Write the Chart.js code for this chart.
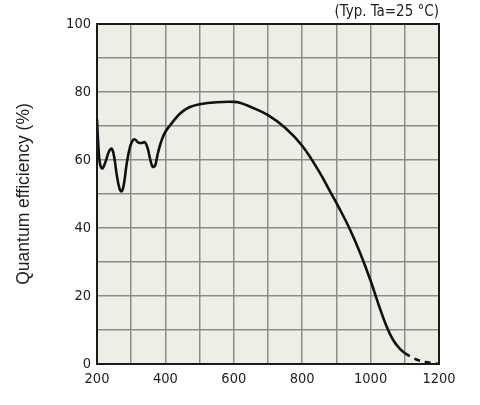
<!DOCTYPE html>
<html>
<head>
<meta charset="utf-8">
<script src="https://cdn.jsdelivr.net/npm/chart.js@4"></script>
<style>
	html, body { margin: 0; padding: 0; background: #ffffff; }
	#wrap { width: 480px; height: 405px; }
</style>
</head>
<body>
<div id="wrap"><canvas id="qe" width="480" height="405"></canvas></div>
<script>
// wavelength (nm) and quantum efficiency (%)
const wavelength = [200, 203, 207, 212, 217, 225, 235, 243, 250, 258, 266, 272, 278, 287, 297, 305, 312, 320, 330, 340,
	348, 356, 363, 370, 378, 388, 400, 420, 443, 470, 500, 550, 600, 620, 650, 700, 750, 800, 850, 880,
	910, 940, 970, 1000, 1025, 1045, 1065, 1085, 1100];
const efficiency = [72, 66, 60, 57.8, 57.6, 59.5, 62.5, 63.3, 61, 55.5, 51.5, 50.8, 52.5, 59, 64, 65.8, 66, 65.2, 65, 65.2,
	63.5, 60, 58, 58.4, 62, 65.5, 68.3, 71, 73.7, 75.5, 76.4, 77, 77.1, 76.8, 75.6, 73.2, 69.5, 64.2, 56.5, 51,
	45.5, 39.5, 32.5, 24.5, 17, 11.5, 7.2, 4.5, 3.2];

// extrapolated tail, drawn dashed
const tailWavelength = [1100, 1120, 1140, 1160, 1180, 1195];
const tailEfficiency = [3.2, 2.0, 1.1, 0.6, 0.3, 0.1];

const xTickStep = 200;
const yTickStep = 20;
const noteText = "(Typ. Ta=25 \u00B0C)";

function toPoints(xs, ys)
{
	return xs.map((x, i) => ({ x: x, y: ys[i] }));
}

const plotFrame = {
	id: "plotFrame",
	beforeDraw(chart)
	{
		const { ctx, chartArea: a } = chart;
		ctx.save();
		ctx.fillStyle = "#efeee6";
		ctx.fillRect(a.left, a.top, a.right - a.left, a.bottom - a.top);
		ctx.restore();
	},
	afterDraw(chart)
	{
		const { ctx, chartArea: a } = chart;
		ctx.save();
		ctx.strokeStyle = "#1a1a1a";
		ctx.lineWidth = 2;
		ctx.strokeRect(a.left, a.top, a.right - a.left, a.bottom - a.top);
		ctx.fillStyle = "#1e1e1e";
		ctx.font = "15px 'DejaVu Sans Condensed', 'DejaVu Sans', sans-serif";
		ctx.textAlign = "right";
		ctx.textBaseline = "middle";
		ctx.fillText(noteText, a.right, 12);
		ctx.restore();
	}
};

const tickFont = { family: "'DejaVu Sans Condensed', 'DejaVu Sans', sans-serif", size: 14.5 };

new Chart(document.getElementById("qe").getContext("2d"),
{
	type: "line",
	plugins: [plotFrame],
	data:
	{
		datasets:
		[
			{
				data: toPoints(wavelength, efficiency),
				borderColor: "#111",
				borderWidth: 2.6,
				pointRadius: 0,
				tension: 0.4
			},
			{
				data: toPoints(tailWavelength, tailEfficiency),
				borderColor: "#111",
				borderWidth: 2.6,
				borderDash: [6, 5],
				pointRadius: 0,
				tension: 0.4
			}
		]
	},
	options:
	{
		responsive: false,
		animation: false,
		devicePixelRatio: 1,
		layout: { padding: { top: 24, right: 41, bottom: 0, left: 0 } },
		plugins:
		{
			legend: { display: false },
			tooltip: { enabled: false }
		},
		scales:
		{
			x:
			{
				type: "linear",
				min: 200,
				max: 1200,
				afterFit: (s) => { s.height = 41; },
				grid: { color: "#8c8c8c", lineWidth: 1.5, drawTicks: false },
				border: { display: false },
				ticks:
				{
					stepSize: 100,
					padding: 7,
					color: "#1e1e1e",
					font: tickFont,
					maxRotation: 0,
					autoSkip: false,
					callback: (v) => (v % xTickStep === 0 ? v : "")
				}
			},
			y:
			{
				min: 0,
				max: 100,
				afterFit: (s) => { s.width = 97; },
				grid: { color: "#8c8c8c", lineWidth: 1.5, drawTicks: false },
				border: { display: false },
				title:
				{
					display: true,
					text: "Quantum efficiency (%)",
					color: "#1e1e1e",
					font: { family: "'Liberation Sans', Arial, sans-serif", size: 17.5 },
					padding: { top: 14 }
				},
				ticks:
				{
					stepSize: 10,
					padding: 6,
					color: "#1e1e1e",
					font: tickFont,
					autoSkip: false,
					callback: (v) => (v % yTickStep === 0 ? v : "")
				}
			}
		}
	}
});
</script>
</body>
</html>
